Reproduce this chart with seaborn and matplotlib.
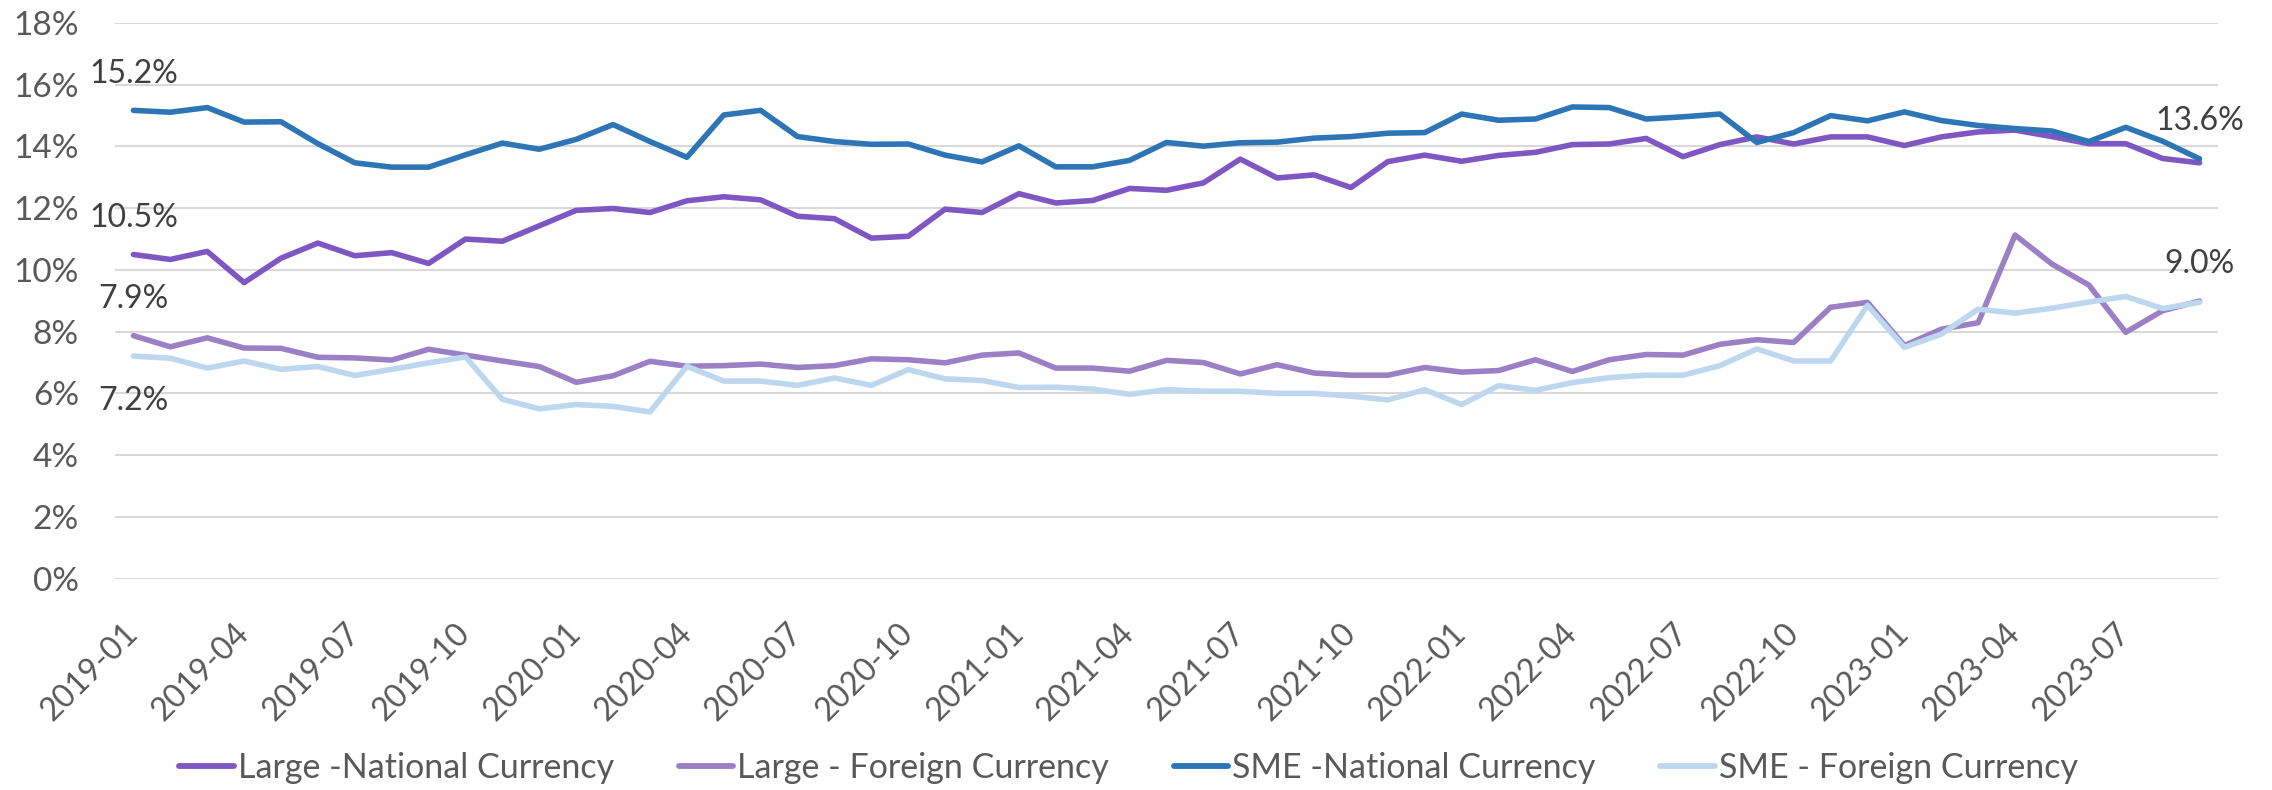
import matplotlib
matplotlib.use("Agg")
import matplotlib.pyplot as plt
import seaborn as sns
import pandas as pd
import numpy as np
from matplotlib.lines import Line2D

# ---------------- data ----------------
months = [str(p) for p in pd.period_range("2019-01", "2023-09", freq="M")]

large_national = [10.50, 10.34, 10.60, 9.59, 10.38, 10.87, 10.46, 10.56, 10.21, 11.00,
                  10.93, 11.43, 11.93, 11.99, 11.86, 12.24, 12.37, 12.27, 11.74, 11.66,
                  11.03, 11.09, 11.97, 11.86, 12.47, 12.17, 12.25, 12.64, 12.58, 12.82,
                  13.59, 12.98, 13.08, 12.67, 13.51, 13.72, 13.52, 13.71, 13.81, 14.06,
                  14.08, 14.26, 13.67, 14.06, 14.31, 14.08, 14.31, 14.31, 14.03, 14.31,
                  14.47, 14.53, 14.32, 14.09, 14.09, 13.61, 13.47]
large_foreign = [7.87, 7.51, 7.80, 7.47, 7.46, 7.17, 7.15, 7.08, 7.43, 7.24,
                 7.05, 6.87, 6.36, 6.57, 7.04, 6.88, 6.90, 6.95, 6.84, 6.90,
                 7.12, 7.09, 6.99, 7.24, 7.31, 6.82, 6.82, 6.72, 7.07, 7.00,
                 6.63, 6.93, 6.66, 6.59, 6.59, 6.84, 6.69, 6.74, 7.09, 6.71,
                 7.09, 7.26, 7.24, 7.59, 7.74, 7.65, 8.79, 8.95, 7.55, 8.08,
                 8.29, 11.13, 10.19, 9.51, 7.98, 8.68, 8.99]
sme_national = [15.17, 15.11, 15.26, 14.79, 14.80, 14.09, 13.47, 13.33, 13.33, 13.73,
                14.11, 13.91, 14.23, 14.71, 14.16, 13.65, 15.02, 15.17, 14.32, 14.16,
                14.07, 14.08, 13.72, 13.50, 14.02, 13.34, 13.34, 13.55, 14.13, 14.01,
                14.12, 14.14, 14.27, 14.32, 14.43, 14.45, 15.05, 14.85, 14.89, 15.28,
                15.26, 14.89, 14.96, 15.05, 14.13, 14.45, 15.00, 14.83, 15.12, 14.84,
                14.68, 14.58, 14.50, 14.16, 14.62, 14.17, 13.60]
sme_foreign = [7.21, 7.14, 6.82, 7.05, 6.78, 6.87, 6.58, 6.78, 6.99, 7.18,
               5.81, 5.50, 5.64, 5.58, 5.40, 6.88, 6.40, 6.40, 6.26, 6.50,
               6.26, 6.77, 6.47, 6.42, 6.19, 6.20, 6.14, 5.97, 6.12, 6.07,
               6.07, 6.00, 6.00, 5.91, 5.79, 6.12, 5.64, 6.25, 6.10, 6.35,
               6.51, 6.59, 6.59, 6.90, 7.44, 7.05, 7.05, 8.85, 7.49, 7.92,
               8.73, 8.60, 8.76, 8.96, 9.14, 8.75, 8.95]

series_names = ["Large -National Currency", "Large - Foreign Currency",
                "SME -National Currency", "SME - Foreign Currency"]
series_values = [large_national, large_foreign, sme_national, sme_foreign]
colors = ["#7E57C2", "#9B80C6", "#2E75B6", "#BDD7EE"]

tick_labels = ["2019-01", "2019-04", "2019-07", "2019-10", "2020-01", "2020-04",
               "2020-07", "2020-10", "2021-01", "2021-04", "2021-07", "2021-10",
               "2022-01", "2022-04", "2022-07", "2022-10", "2023-01", "2023-04",
               "2023-07"]
y_ticks = [0, 2, 4, 6, 8, 10, 12, 14, 16, 18]

# ---------------- build frame ----------------
rows = []
for name, vals in zip(series_names, series_values):
    for i, (m, v) in enumerate(zip(months, vals)):
        rows.append({"idx": i, "month": m, "series": name, "value": v / 100.0})
df = pd.DataFrame(rows)

sns.set_theme(style="white")
plt.rcParams["font.family"] = ["Lato", "DejaVu Sans"]

fig = plt.figure(figsize=(22.72, 7.90), dpi=100)
ax = fig.add_axes([115 / 2272, 1 - 578.6 / 790, (2218 - 115) / 2272, (578.6 - 23) / 790])

sns.lineplot(data=df, x="idx", y="value", hue="series", hue_order=series_names,
             palette=colors, linewidth=4.0, ax=ax, legend=False,
             solid_capstyle="round", solid_joinstyle="round")

ax.set_xlim(-0.5, len(months) - 0.5)
ax.set_ylim(0, 0.18)
ax.set_yticks([t / 100 for t in y_ticks])
ax.set_yticklabels([f"{t}%" for t in y_ticks])
ax.set_xticks([months.index(t) for t in tick_labels])
ax.set_xticklabels(tick_labels, rotation=45, ha="right", va="center",
                   rotation_mode="anchor")
ax.set_xlabel("")
ax.set_ylabel("")
for s in ax.spines.values():
    s.set_visible(False)
ax.grid(axis="y", color="#D9D9D9", linewidth=1.5)
ax.grid(axis="x", visible=False)
ax.set_axisbelow(True)
ax.tick_params(axis="y", length=0, pad=26, labelsize=24, labelcolor="#595959")
ax.tick_params(axis="x", length=0, pad=36, labelsize=23, labelcolor="#595959")

# ---------------- data labels ----------------
txt_kw = dict(textcoords="offset points", ha="center", va="baseline",
              fontsize=23, color="#404040")
last = len(months) - 1
ax.annotate(f"{sme_national[0]:.1f}%", (0, sme_national[0] / 100), xytext=(0, 20), **txt_kw)
ax.annotate(f"{large_national[0]:.1f}%", (0, large_national[0] / 100), xytext=(0, 20), **txt_kw)
ax.annotate(f"{large_foreign[0]:.1f}%", (0, large_foreign[0] / 100), xytext=(0, 20), **txt_kw)
ax.annotate(f"{sme_foreign[0]:.1f}%", (0, sme_foreign[0] / 100), xytext=(0, -38.5), **txt_kw)
ax.annotate(f"{sme_national[last]:.1f}%", (last, sme_national[last] / 100), xytext=(0, 20.5), **txt_kw)
ax.annotate(f"{large_foreign[last]:.1f}%", (last, large_foreign[last] / 100), xytext=(0, 20), **txt_kw)

# ---------------- legend ----------------
handles = [Line2D([0], [0], color=c, linewidth=4.2, solid_capstyle="round") for c in colors]
leg = fig.legend(handles, series_names, loc="center", bbox_to_anchor=(0.4967, 0.028),
                 ncol=4, frameon=False, fontsize=24.5, handlelength=1.6,
                 handletextpad=0.12, columnspacing=1.9, borderaxespad=0)
for t in leg.get_texts():
    t.set_color("#595959")

fig.savefig("out.png", dpi=100)
